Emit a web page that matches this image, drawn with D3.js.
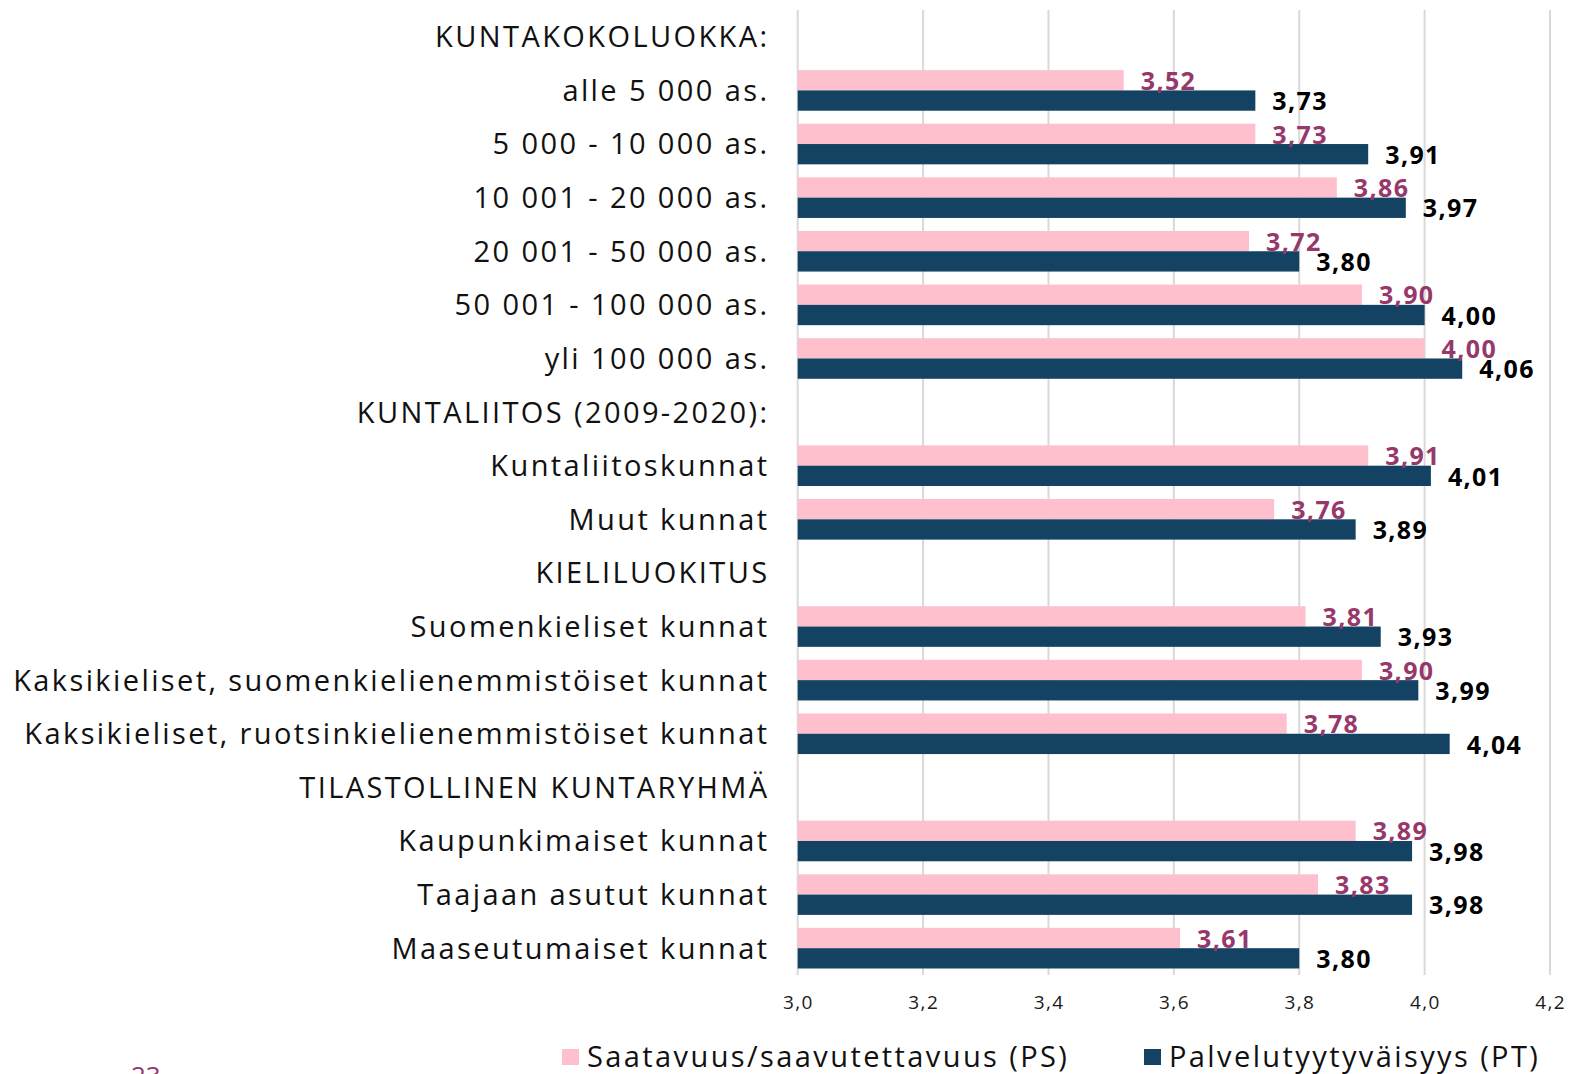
<!DOCTYPE html>
<html>
<head>
<meta charset="utf-8">
<script src="https://cdn.jsdelivr.net/npm/d3@7"></script>
<style>
  html, body { margin: 0; padding: 0; background: #fff; }
  svg { display: block; }
</style>
</head>
<body>
<svg id="chart" width="1570" height="1074"></svg>
<script>
// ---- data ----
const categories = [
  "KUNTAKOKOLUOKKA:",
  "alle 5 000 as.",
  "5 000 - 10 000 as.",
  "10 001 - 20 000 as.",
  "20 001 - 50 000 as.",
  "50 001 - 100 000 as.",
  "yli 100 000 as.",
  "KUNTALIITOS (2009-2020):",
  "Kuntaliitoskunnat",
  "Muut kunnat",
  "KIELILUOKITUS",
  "Suomenkieliset kunnat",
  "Kaksikieliset, suomenkielienemmistöiset kunnat",
  "Kaksikieliset, ruotsinkielienemmistöiset kunnat",
  "TILASTOLLINEN KUNTARYHMÄ",
  "Kaupunkimaiset kunnat",
  "Taajaan asutut kunnat",
  "Maaseutumaiset kunnat"
];
const psValues = [null, 3.52, 3.73, 3.86, 3.72, 3.90, 4.00, null, 3.91, 3.76, null, 3.81, 3.90, 3.78, null, 3.89, 3.83, 3.61];
const ptValues = [null, 3.73, 3.91, 3.97, 3.80, 4.00, 4.06, null, 4.01, 3.89, null, 3.93, 3.99, 4.04, null, 3.98, 3.98, 3.80];
const seriesNames = ["Saatavuus/saavutettavuus (PS)", "Palvelutyytyväisyys (PT)"];
const xTicks = [3.0, 3.2, 3.4, 3.6, 3.8, 4.0, 4.2];
const pageNumber = "23";

// ---- styles ----
const COL_PS = "#FFC0CE";
const COL_PT = "#134262";
const COL_PS_LABEL = "#96386A";
const COL_PT_LABEL = "#000000";
const FONT = "'Open Sans', 'Noto Sans', sans-serif";

const svg = d3.select("#chart");
const plot = { left: 797.7, right: 1550, top: 10, bottom: 975 };

const locale = d3.formatLocale({ decimal: ",", thousands: " ", grouping: [3], currency: ["", "€"] });
const fmt2 = locale.format(".2f");
const fmt1 = locale.format(".1f");

const x = d3.scaleLinear().domain([3.0, 4.2]).range([plot.left, plot.right]);
const y = d3.scaleBand().domain(d3.range(categories.length)).range([plot.top, plot.bottom]).paddingInner(0).paddingOuter(0);
const sub = d3.scaleBand().domain(["PS", "PT"]).range([0, y.bandwidth()]).paddingInner(0).paddingOuter(0.32);

// gridlines
svg.append("g")
  .selectAll("line")
  .data(xTicks)
  .join("line")
  .attr("x1", d => x(d)).attr("x2", d => x(d))
  .attr("y1", plot.top).attr("y2", plot.bottom)
  .attr("stroke", "#D9D9D9")
  .attr("stroke-width", 2);

// x tick labels
svg.append("g")
  .selectAll("text")
  .data(xTicks)
  .join("text")
  .attr("x", d => x(d) + 0.7)
  .attr("y", 1009)
  .attr("text-anchor", "middle")
  .attr("font-family", FONT)
  .attr("font-size", 19)
  .attr("letter-spacing", "1.4px")
  .attr("fill", "#1a1a1a")
  .text(d => fmt1(d));

// category labels
svg.append("g")
  .selectAll("text")
  .data(categories)
  .join("text")
  .attr("x", 769.5)
  .attr("y", (d, i) => y(i) + y.bandwidth() / 2)
  .attr("dy", "0.36em")
  .attr("text-anchor", "end")
  .attr("font-family", FONT)
  .attr("font-size", 29)
  .attr("letter-spacing", "2.4px")
  .attr("fill", "#111")
  .text(d => d);

const series = [
  { key: "PS", values: psValues, color: COL_PS, labelColor: COL_PS_LABEL },
  { key: "PT", values: ptValues, color: COL_PT, labelColor: COL_PT_LABEL }
];

series.forEach(s => {
  const rows = s.values.map((v, i) => ({ i, v })).filter(d => d.v !== null);
  svg.append("g")
    .selectAll("rect")
    .data(rows)
    .join("rect")
    .attr("x", x(3.0))
    .attr("y", d => y(d.i) + sub(s.key))
    .attr("width", d => x(d.v) - x(3.0))
    .attr("height", sub.bandwidth())
    .attr("fill", s.color);
});

series.forEach(s => {
  const rows = s.values.map((v, i) => ({ i, v })).filter(d => d.v !== null);
  svg.append("g")
    .selectAll("text")
    .data(rows)
    .join("text")
    .attr("x", d => x(d.v) + 17)
    .attr("y", d => y(d.i) + sub(s.key) + sub.bandwidth() - 0.5)
    .attr("font-family", FONT)
    .attr("font-size", 25)
    .attr("font-weight", "bold")
    .attr("letter-spacing", "1.4px")
    .attr("fill", s.labelColor)
    .text(d => fmt2(d.v));
});

// legend
const legendItems = [
  { name: seriesNames[0], color: COL_PS, x: 562 },
  { name: seriesNames[1], color: COL_PT, x: 1144 }
];
const lg = svg.append("g");
legendItems.forEach(item => {
  lg.append("rect")
    .attr("x", item.x).attr("y", 1049)
    .attr("width", 17).attr("height", 16)
    .attr("fill", item.color);
  lg.append("text")
    .attr("x", item.x + 25)
    .attr("y", 1067)
    .attr("font-family", FONT)
    .attr("font-size", 29)
    .attr("letter-spacing", "2.4px")
    .attr("fill", "#111")
    .text(item.name);
});

// page number (cut off at bottom)
svg.append("text")
  .attr("x", 131)
  .attr("y", 1085)
  .attr("font-family", FONT)
  .attr("font-size", 26)
  .attr("fill", COL_PS_LABEL)
  .text(pageNumber);
</script>
</body>
</html>
